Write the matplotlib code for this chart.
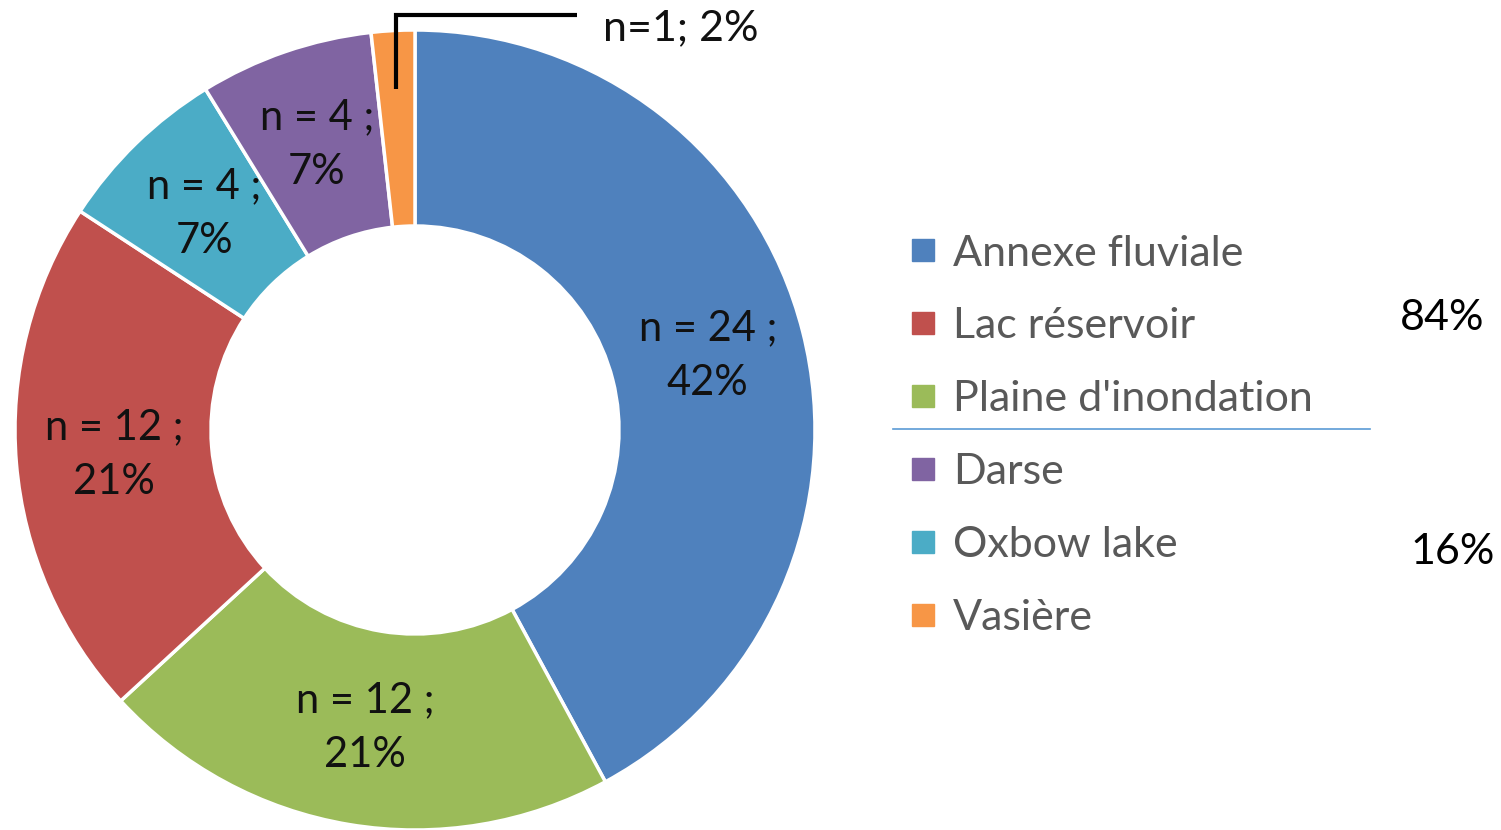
import matplotlib
matplotlib.use("Agg")
import matplotlib.pyplot as plt
from matplotlib.lines import Line2D
import numpy as np

plt.rcParams['font.family'] = ['Lato', 'DejaVu Sans']

# Data (pie order, clockwise from top)
categories = ["Annexe fluviale", "Plaine d'inondation", "Lac réservoir",
              "Oxbow lake", "Darse", "Vasière"]
counts = [24, 12, 12, 4, 4, 1]
colors = ["#4F81BD", "#9BBB59", "#C0504D", "#4BACC6", "#8064A2", "#F79646"]
legend_order = ["Annexe fluviale", "Lac réservoir", "Plaine d'inondation",
                "Darse", "Oxbow lake", "Vasière"]
group_top = ["Annexe fluviale", "Lac réservoir", "Plaine d'inondation"]

total = sum(counts)
pcts = [c / total * 100 for c in counts]
labels = [f"n = {c} ;\n{round(p)}%" for c, p in zip(counts, pcts)]
labels[-1] = ""  # small slice labelled with leader line

W, H = 1501, 830
fig = plt.figure(figsize=(W / 100, H / 100), dpi=100)
ax = fig.add_axes([0, 0, 1, 1])

cx, cy, R = 415, 430, 400  # pixel geometry
wedges, texts = ax.pie(counts, colors=colors, startangle=90, counterclock=False,
                       labels=labels, labeldistance=0.755, radius=1.0,
                       wedgeprops=dict(width=0.49, edgecolor="white", linewidth=2.5),
                       textprops=dict(fontsize=30, color="#111111", ha="center",
                                      va="center", linespacing=1.55))
ax.set_aspect('auto')
ax.set_xlim(-cx / R, (W - cx) / R)
ax.set_ylim(-(H - cy) / R, cy / R)
ax.axis('off')

# leader line for smallest slice
w = wedges[-1]
mid = np.deg2rad((w.theta1 + w.theta2) / 2)
x0 = 0.855 * np.cos(mid)
y_top = (cy - 15) / R
ax.plot([x0, x0, (577 - cx) / R], [0.855 * np.sin(mid), y_top, y_top],
        color="black", lw=3, solid_capstyle="butt", solid_joinstyle="miter")
ax.text((603 - cx) / R, (cy - 28) / R,
        f"n={counts[-1]}; {round(pcts[-1])}%", fontsize=31, color="#111111",
        ha="left", va="center")

# legend
handles = []
for name in legend_order:
    i = categories.index(name)
    handles.append(Line2D([0], [0], marker='s', linestyle='none', markersize=16,
                          markerfacecolor=colors[i], markeredgecolor=colors[i],
                          label=name))
leg = fig.legend(handles=handles, loc="upper left",
                 bbox_to_anchor=(884 / W, 1 - 213 / H), frameon=False,
                 fontsize=31, labelcolor="#595959", handlelength=0.8,
                 handletextpad=0.3, labelspacing=0.81, borderpad=0)

# separator line
ax.plot([(893 - cx) / R, (1370 - cx) / R], [(cy - 429) / R] * 2,
        color="#5B9BD5", lw=1.2)

top_pct = sum(pcts[categories.index(n)] for n in group_top)
ax.text((1442 - cx) / R, (cy - 318) / R, f"{round(top_pct)}%", fontsize=31,
        color="black", ha="center", va="center")
ax.text((1453 - cx) / R, (cy - 552) / R, f"{round(100 - top_pct)}%", fontsize=31,
        color="black", ha="center", va="center")

fig.savefig("out.png", dpi=100)
